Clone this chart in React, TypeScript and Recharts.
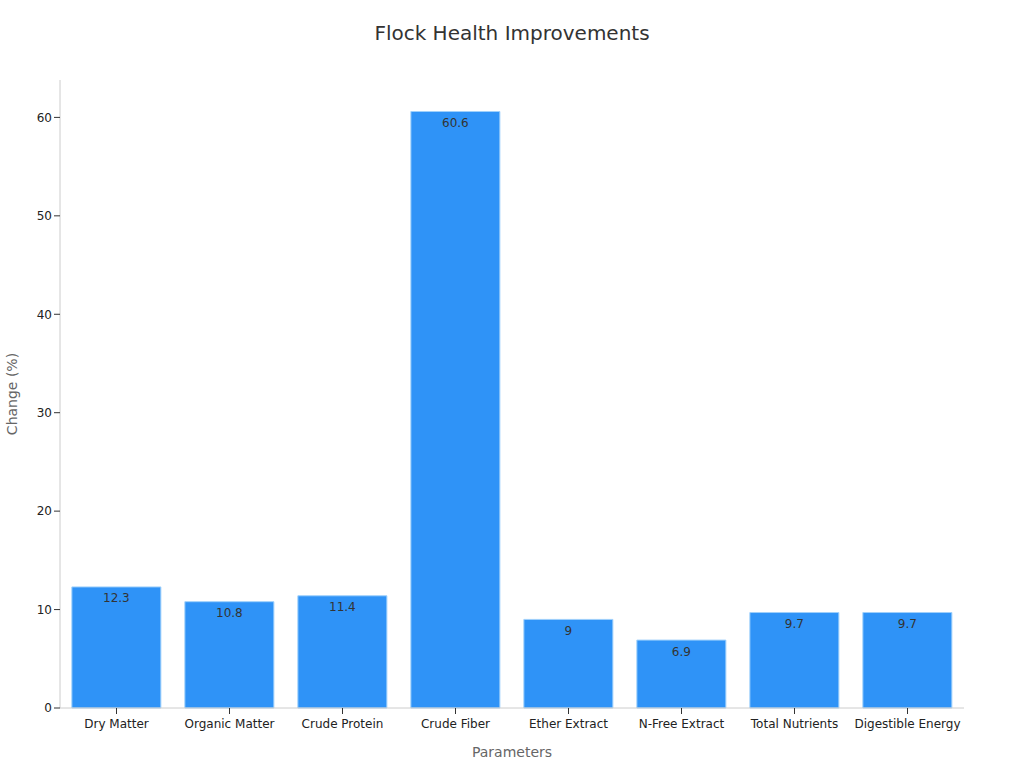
import React from 'react';
import { BarChart, Bar, XAxis, YAxis, LabelList, Label } from 'recharts';

const categories = [
  'Dry Matter', 'Organic Matter', 'Crude Protein', 'Crude Fiber',
  'Ether Extract', 'N-Free Extract', 'Total Nutrients', 'Digestible Energy',
];
const changes = [12.3, 10.8, 11.4, 60.6, 9, 6.9, 9.7, 9.7];
const yTicks = [0, 10, 20, 30, 40, 50, 60];

const data = categories.map((name, i) => ({ name, value: changes[i] }));

const FONT = '"DejaVu Sans", sans-serif';

export default function App() {
  return (
    <div style={{ position: 'absolute', left: 0, top: 0, width: 1024, height: 768, fontFamily: FONT, background: '#fff' }}>
      <div style={{ position: 'absolute', top: 21, width: 1024, textAlign: 'center', fontSize: 20, color: '#333' }}>
        Flock Health Improvements
      </div>
      <BarChart
        width={1024}
        height={768}
        data={data}
        margin={{ top: 80, right: 60, left: 0, bottom: 0 }}
        barCategoryGap="10.5%"
      >
        <XAxis
          dataKey="name"
          height={60}
          stroke="#ccc"
          tickMargin={5}
          tick={{ fill: '#222', fontSize: 12, fontFamily: FONT }}
          tickLine={{ stroke: '#333' }}
        >
          <Label value="Parameters" position="insideBottom" offset={11} fill="#666" fontSize={14} fontFamily={FONT} />
        </XAxis>
        <YAxis
          width={60}
          domain={[0, 63.8]}
          ticks={yTicks}
          stroke="#ccc"
          tick={{ fill: '#222', fontSize: 12, fontFamily: FONT }}
          tickLine={{ stroke: '#333' }}
        >
          <Label value="Change (%)" angle={-90} position="insideLeft" offset={12} fill="#666" fontSize={14} fontFamily={FONT} style={{ textAnchor: 'middle' }} />
        </YAxis>
        <Bar dataKey="value" fill="#2f93f7" stroke="#9fd0fb" strokeWidth={1} isAnimationActive={false}>
          <LabelList dataKey="value" position="insideTop" fill="#333" fontSize={12} fontFamily={FONT} offset={7} />
        </Bar>
      </BarChart>
    </div>
  );
}
